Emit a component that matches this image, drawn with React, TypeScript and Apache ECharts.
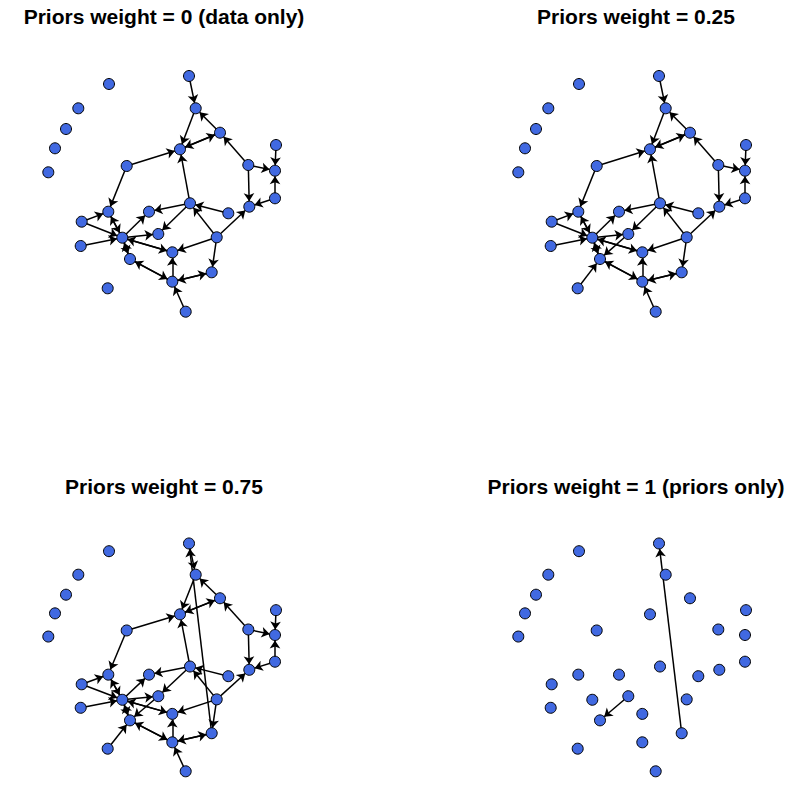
import React, { useEffect, useRef } from "react";
import * as echarts from "echarts";

// Network layout (shared by all four panels)
const nodeNames = ["A","B","C","D","E","F","G","H","I","J","K","L","M","N","O","P","Q","R","S","T","U","V","W","X","Y","Z","AA","AB","AC","AD"];
const layoutX = [109, 78.3, 66, 55, 48.3, 189, 195.7, 220, 180, 276, 248.3, 275, 126.7, 275, 249.3, 190, 228.3, 108.3, 149, 81.7, 158.3, 122.3, 216.7, 80.7, 172.3, 130, 211.7, 172.3, 107.7, 185.7];
const layoutY = [84, 108.3, 129, 148.3, 172.3, 76, 108.3, 132.7, 149.3, 145, 165, 170.7, 166, 198.3, 206.7, 203.3, 213.3, 211.7, 211.7, 221.7, 234, 237.7, 237.3, 246, 252.3, 259, 272.3, 281.7, 288.3, 311.7];

// Arcs (from -> to) for each priors weight
const arcsDataOnly = [
  ["F","G"],["G","I"],["H","G"],["I","H"],["H","I"],["K","H"],["K","L"],["K","O"],["J","L"],["N","L"],["N","O"],
  ["M","I"],["M","R"],["P","I"],["P","S"],["P","U"],["Q","P"],["W","P"],["W","O"],["W","Y"],["W","AA"],
  ["T","R"],["T","V"],["X","V"],["V","R"],["R","V"],["V","S"],["V","U"],["V","Y"],["Y","V"],["V","Z"],["Z","V"],
  ["Z","AB"],["AB","Z"],["AB","Y"],["AB","AA"],["AA","AB"],["AD","AB"]
];
const arcsWeight025 = [...arcsDataOnly, ["AC","Z"], ["U","Z"]];
const arcsWeight075 = [...arcsWeight025, ["AA","F"]];
const arcsPriorsOnly = [["AA","F"], ["U","Z"]];

const panelTitles = [
  "Priors weight = 0 (data only)",
  "Priors weight = 0.25",
  "Priors weight = 0.75",
  "Priors weight = 1 (priors only)",
];
const panelArcs = [arcsDataOnly, arcsWeight025, arcsWeight075, arcsPriorsOnly];

export default function App() {
  const ref = useRef<HTMLDivElement>(null);
  useEffect(() => {
    document.body.style.margin = "0";
    if (!ref.current) return;
    const chart = echarts.init(ref.current, null, { renderer: "svg" });
    const colLeft = [0, 470, 0, 470];
    const rowTop = [0, 0, 470, 470];
    const grids = panelTitles.map((_, i) => ({
      left: colLeft[i], top: rowTop[i], width: 300, height: 330,
    }));
    const xAxes = panelTitles.map((_, i) => ({
      type: "value", gridIndex: i, min: 0, max: 300, show: false,
    }));
    const yAxes = panelTitles.map((_, i) => ({
      type: "value", gridIndex: i, min: 0, max: 330, inverse: true, show: false,
    }));
    const nodes = nodeNames.map((n, k) => ({ name: n, value: [layoutX[k], layoutY[k]] }));
    const series = panelArcs.map((arcs, i) => ({
      type: "graph",
      coordinateSystem: "cartesian2d",
      xAxisIndex: i,
      yAxisIndex: i,
      symbol: "circle",
      symbolSize: 11,
      itemStyle: { color: "#4169E1", borderColor: "#000", borderWidth: 1, opacity: 1 },
      lineStyle: { color: "#000", width: 1.5, opacity: 1, curveness: 0 },
      edgeSymbol: ["none", "arrow"],
      edgeSymbolSize: [0, 8],
      label: { show: false },
      emphasis: { disabled: true },
      data: nodes,
      links: arcs.map(([s, t]) => ({ source: s, target: t })),
      z: 2,
    }));
    const titleX = [164, 636, 164, 636];
    const titleY = [16, 16, 486, 486];
    const graphic = panelTitles.map((t, i) => ({
      type: "text",
      x: titleX[i],
      y: titleY[i],
      style: {
        text: t,
        font: 'bold 21px "Liberation Sans", Arial, sans-serif',
        fill: "#000",
        align: "center",
        verticalAlign: "middle",
        textAlign: "center",
        textVerticalAlign: "middle",
      },
    }));
    chart.setOption({
      animation: false,
      backgroundColor: "#fff",
      grid: grids,
      xAxis: xAxes,
      yAxis: yAxes,
      series,
      graphic,
    });
    return () => chart.dispose();
  }, []);
  return <div ref={ref} style={{ width: 793, height: 789 }} />;
}
